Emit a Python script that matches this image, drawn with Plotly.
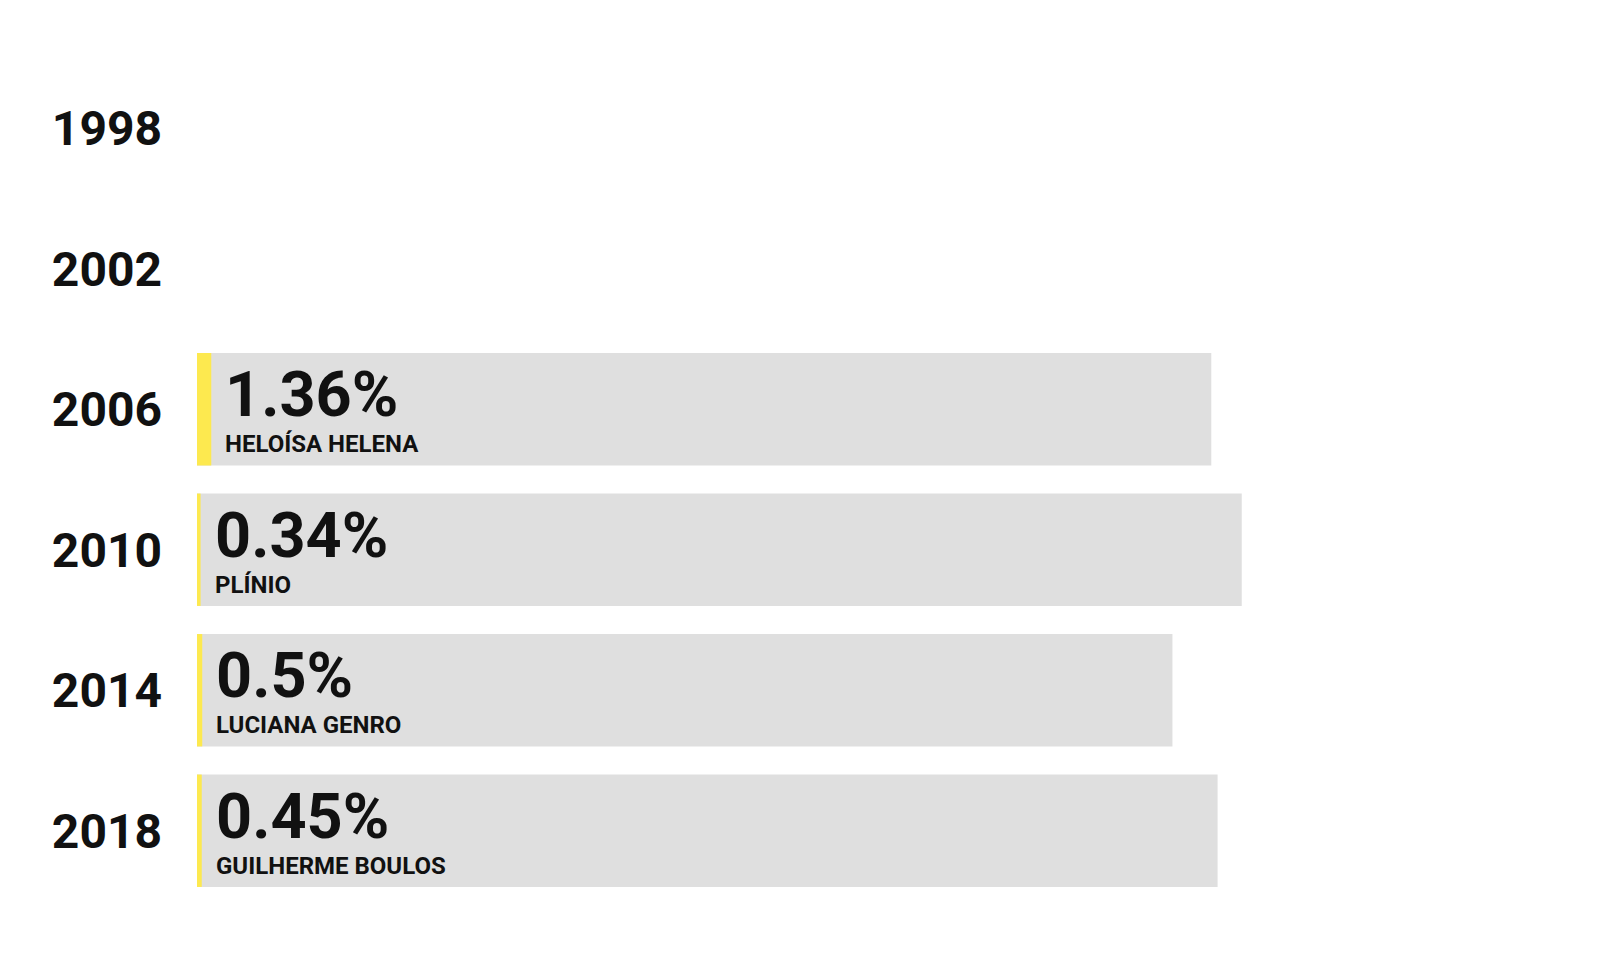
import plotly.graph_objects as go

years = ["1998", "2002", "2006", "2010", "2014", "2018"]
vote_share = [None, None, 1.36, 0.34, 0.5, 0.45]
background = [None, None, 96.6, 99.5, 92.9, 97.2]
candidates = [None, None, "HELOÍSA HELENA", "PLÍNIO", "LUCIANA GENRO", "GUILHERME BOULOS"]
labels = [None, None, "1.36%", "0.34%", "0.5%", "0.45%"]

FONT = "Roboto"

fig = go.Figure()
fig.add_trace(go.Bar(
    y=years, x=background, orientation="h",
    marker=dict(color="#dfdfdf", line=dict(width=0)),
    hoverinfo="skip", showlegend=False,
))
fig.add_trace(go.Bar(
    y=years, x=vote_share, orientation="h",
    marker=dict(color="#fde94f", line=dict(width=0)),
    showlegend=False,
))

for i, (v, lab, name) in enumerate(zip(vote_share, labels, candidates)):
    if v is None:
        continue
    txt = (f"<span style='font-size:63px'><b>{lab}</b></span><br>"
           f"<span style='font-size:24px'><b>{name}</b></span>")
    fig.add_annotation(
        x=v, y=i, text=txt, showarrow=False, align="left",
        xanchor="left", yanchor="middle", xshift=12, yshift=1,
        font=dict(family=FONT, size=28, color="#111111"),
    )

fig.update_layout(
    width=1600, height=960,
    paper_bgcolor="white", plot_bgcolor="white",
    barmode="overlay", bargap=0.2,
    margin=dict(l=189, r=46, t=50, b=67),
    xaxis=dict(range=[0, 130], visible=False, fixedrange=True),
    yaxis=dict(
        type="category", categoryorder="array", categoryarray=years,
        range=[5.5, -0.5], showgrid=False, zeroline=False, showline=False,
        ticks="", ticklabelstandoff=34,
        tickfont=dict(family=FONT, size=48, color="#111111", weight="bold"),
    ),
)

fig.write_html("out.html")
